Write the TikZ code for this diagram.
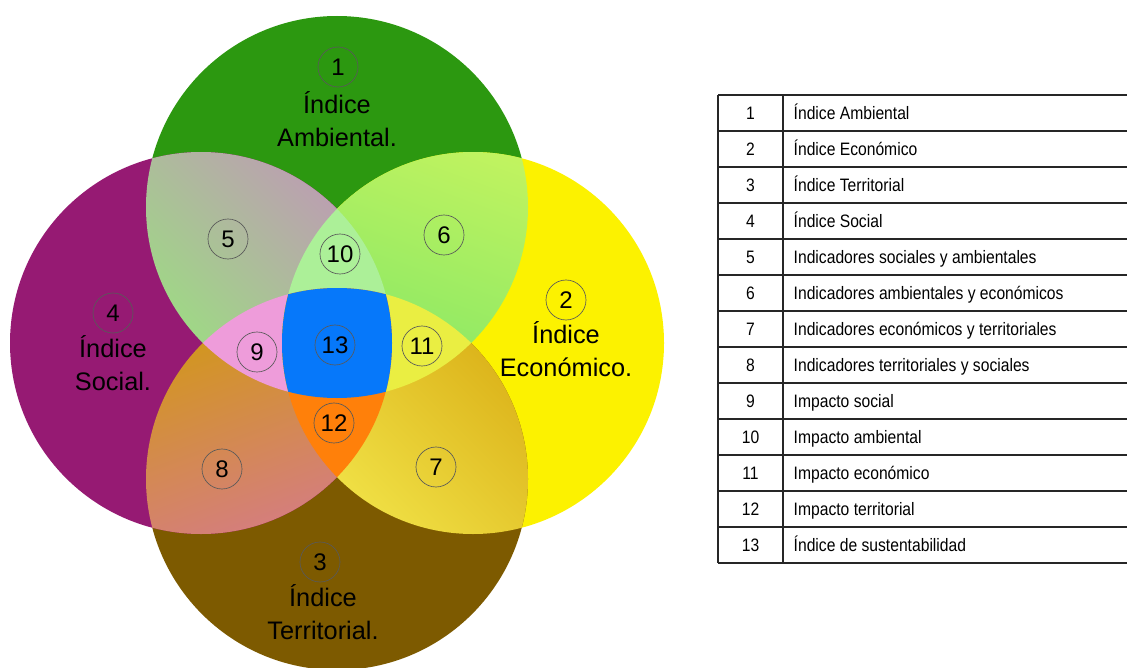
\documentclass[tikz,border=0pt]{standalone}
\usepackage{fontspec}
\setmainfont{Liberation Sans}
\newfontfamily\narrowfont[FakeStretch=0.87]{Liberation Sans}
\definecolor{ambcol}{RGB}{44,152,16}
\definecolor{ecocol}{RGB}{252,242,0}
\definecolor{tercol}{RGB}{125,90,0}
\definecolor{soccol}{RGB}{150,26,115}
\definecolor{mauve}{RGB}{196,142,190}
\definecolor{softgreen}{RGB}{150,234,120}
\definecolor{limeyel}{RGB}{226,250,92}
\definecolor{limegreen}{RGB}{148,234,100}
\definecolor{goldyel}{RGB}{246,238,82}
\definecolor{gold}{RGB}{214,166,14}
\definecolor{goldbrown}{RGB}{210,152,24}
\definecolor{rosepink}{RGB}{214,112,178}
\definecolor{pink}{RGB}{238,156,218}
\definecolor{palegreen}{RGB}{172,240,152}
\definecolor{brightyel}{RGB}{234,238,66}
\definecolor{orange}{RGB}{255,128,10}
\definecolor{sustblue}{RGB}{6,120,250}
\begin{document}
\begin{tikzpicture}[x=0.75pt,y=-0.75pt,
    numcirc/.style={draw=black!65, line width=0.5pt, circle, minimum size=30pt, inner sep=0pt, font=\fontsize{18}{18}\selectfont},
    idxlabel/.style={align=center, font=\fontsize{19}{24.75}\selectfont},
    cellnum/.style={anchor=base, font=\narrowfont\fontsize{13.5}{13.5}\selectfont},
    celltxt/.style={anchor=base west, font=\narrowfont\fontsize{13.5}{13.5}\selectfont},
    tabline/.style={draw=black!85, line width=1pt}]
  \useasboundingbox (0,0) rectangle (1127,667);
  \clip (0,0) rectangle (1127,667);
  % the four indices
  \def\rad{191}
  \coordinate (T) at (337,207);
  \coordinate (R) at (473,343);
  \coordinate (B) at (337,479);
  \coordinate (L) at (201,343);
  \fill[ambcol] (T) circle (\rad);
  \fill[ecocol] (R) circle (\rad);
  \fill[tercol] (B) circle (\rad);
  \fill[soccol] (L) circle (\rad);
  % pairs
  \begin{scope}
    \clip (T) circle (\rad); \clip (L) circle (\rad);
    \shade[top color=mauve, bottom color=softgreen, shading angle=-45] (10,16) rectangle (337,343);
  \end{scope}
  \begin{scope}
    \clip (T) circle (\rad); \clip (R) circle (\rad);
    \shade[top color=limeyel, bottom color=limegreen, shading angle=-20] (337,16) rectangle (664,343);
  \end{scope}
  \begin{scope}
    \clip (B) circle (\rad); \clip (R) circle (\rad);
    \shade[top color=gold, bottom color=goldyel, shading angle=-45] (337,343) rectangle (664,670);
  \end{scope}
  \begin{scope}
    \clip (B) circle (\rad); \clip (L) circle (\rad);
    \shade[top color=goldbrown, bottom color=rosepink, shading angle=20] (10,343) rectangle (337,670);
  \end{scope}
  % triples
  \begin{scope}
    \clip (L) circle (\rad); \clip (T) circle (\rad); \fill[pink] (B) circle (\rad);
  \end{scope}
  \begin{scope}
    \clip (T) circle (\rad); \clip (L) circle (\rad); \fill[palegreen] (R) circle (\rad);
  \end{scope}
  \begin{scope}
    \clip (R) circle (\rad); \clip (T) circle (\rad); \fill[brightyel] (B) circle (\rad);
  \end{scope}
  \begin{scope}
    \clip (B) circle (\rad); \clip (L) circle (\rad); \fill[orange] (R) circle (\rad);
  \end{scope}
  \begin{scope}
    \clip (T) circle (\rad); \clip (B) circle (\rad); \clip (L) circle (\rad); \fill[sustblue] (R) circle (\rad);
  \end{scope}
  % numbers
  \foreach \num/\px/\py in {1/338/67, 2/566/300, 3/320/562, 4/113/313, 5/228/239, 6/444/235, 7/436/467,
      8/222/469, 9/257/352, 10/340/254, 11/422/346, 12/334/423, 13/335/345}
    \node[numcirc] (c\num) at (\px,\py) {\num};
  \node[idxlabel] (l1) at (337,119) {Índice\\Ambiental.};
  \node[idxlabel] (l2) at (566,349) {Índice\\Económico.};
  \node[idxlabel] (l3) at (323,612) {Índice\\Territorial.};
  \node[idxlabel] (l4) at (113,363) {Índice\\Social.};
  % legend table
  \foreach \k in {0,...,13}
    \draw[tabline] (718,95+36*\k) -- (1127,95+36*\k);
  \draw[tabline] (718,95) -- (718,563);
  \draw[tabline] (783,95) -- (783,563);
  \foreach \txt [count=\i] in {Índice Ambiental, Índice Económico, Índice Territorial, Índice Social,
      Indicadores sociales y ambientales, Indicadores ambientales y económicos,
      Indicadores económicos y territoriales, Indicadores territoriales y sociales,
      Impacto social, Impacto ambiental, Impacto económico, Impacto territorial,
      Índice de sustentabilidad}{
    \node[cellnum] (n\i) at (750.5,83+36*\i) {\i};
    \node[celltxt] (t\i) at (789,83+36*\i) {\txt};
  }
\end{tikzpicture}
\end{document}
